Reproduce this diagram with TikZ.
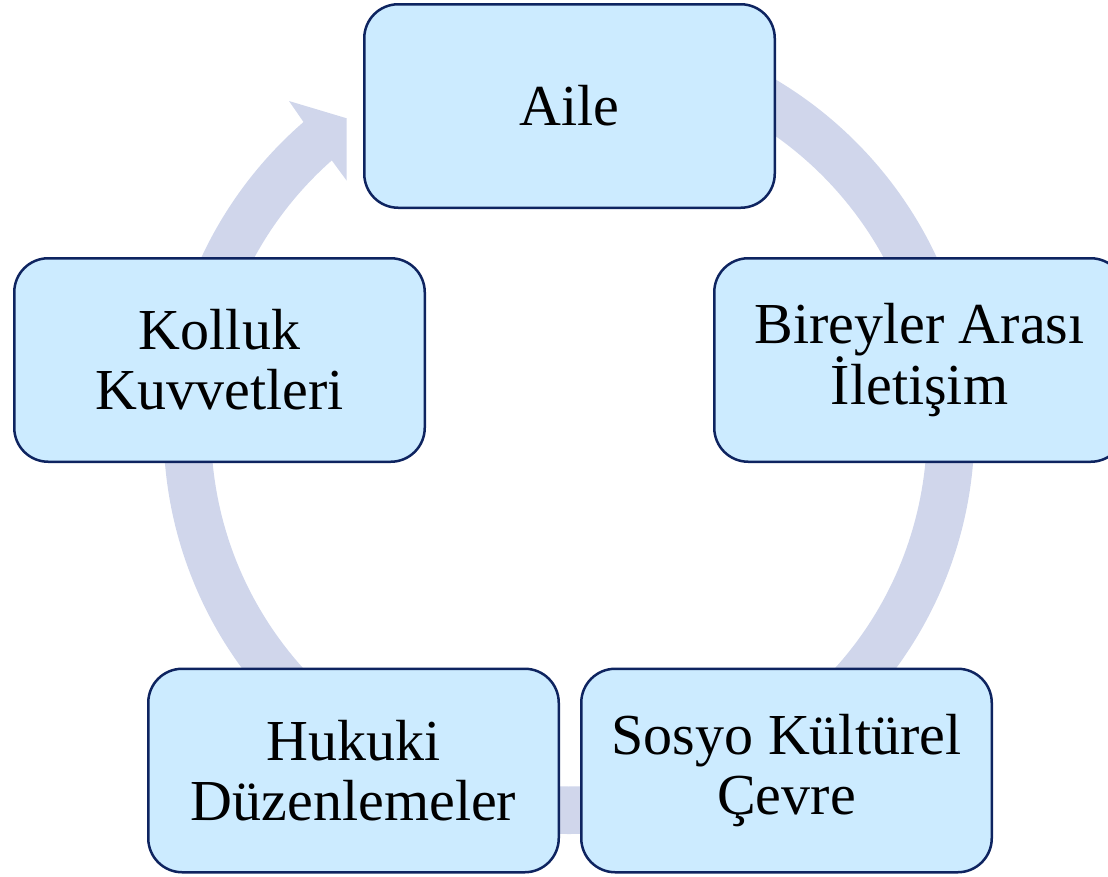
\documentclass[tikz,border=0pt]{standalone}
\usepackage{fontspec}
\setmainfont{Liberation Serif}
\usetikzlibrary{calc}
\definecolor{boxfill}{RGB}{204,235,255}
\definecolor{boxline}{RGB}{14,36,96}
\definecolor{ringcol}{RGB}{208,214,235}
\begin{document}
\begin{tikzpicture}[x=1pt,y=-1pt,
  cbox/.style={draw=boxline, line width=2.5pt, fill=boxfill, rounded corners=34pt,
    minimum width=410.5pt, minimum height=203.5pt, align=center,
    font=\fontsize{58}{60}\selectfont, inner sep=0pt}]
\useasboundingbox (0,0) rectangle (1108,876);
\clip (0,0) rectangle (1108,876);
\coordinate (C) at (569,428.5);
% cycle ring with arrowhead
\fill[ringcol] ($(C)+(-131.5:358)$)
  arc[start angle=-131.5, end angle=-450, radius=358]
  -- ($(C)+(-450:405.5)$)
  arc[start angle=-450, end angle=-130.9, radius=405.5]
  -- (289,101) -- (346.7,118.3) -- (346.7,180.7) -- cycle;
% boxes
\node[cbox] (aile) at (569.5,106) {Aile};
\node[cbox] (bireyler) at (919.5,360) {Bireyler Arası\\İletişim};
\node[cbox] (sosyo) at (786.5,770.5) {Sosyo Kültürel\\Çevre};
\node[cbox] (hukuki) at (353.5,770.5) {Hukuki\\Düzenlemeler};
\node[cbox] (kolluk) at (219.5,360) {Kolluk\\Kuvvetleri};
\end{tikzpicture}
\end{document}
